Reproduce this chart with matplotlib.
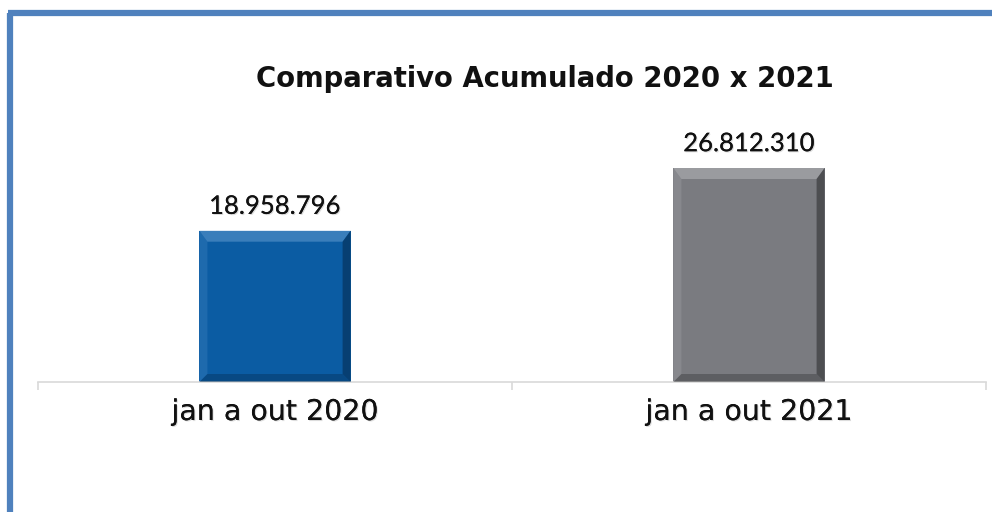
import matplotlib
matplotlib.use("Agg")
import matplotlib.pyplot as plt
import matplotlib.patheffects as pe
from matplotlib.patches import Polygon
import numpy as np

categories = ["jan a out 2020", "jan a out 2021"]
values = [18958796, 26812310]
value_labels = ["18.958.796", "26.812.310"]
title = "Comparativo Acumulado 2020 x 2021"

bar_colors = ["#0B5CA3", "#7A7B80"]
light_colors = ["#5A95CC", "#B0B1B5"]
dark_colors = ["#06345E", "#3A3B3E"]

plt.rcParams['font.family'] = ['Lato', 'DejaVu Sans']

fig = plt.figure(figsize=(9.92, 5.12), dpi=100)
W, H = 992, 512
ax = fig.add_axes([38 / W, 130 / H, (986 - 38) / W, (382 - 130) / H])
ax.set_xlim(-0.5, 1.5)
ax.set_ylim(0, values[1] * (382 - 130) / 214)

x = np.arange(len(categories))
bw = 0.319
bars = ax.bar(x, values, width=bw, color=bar_colors, zorder=2)

# bevel effect
to_disp = ax.transData
to_data = ax.transData.inverted()
for b, lc, dc in zip(bars, light_colors, dark_colors):
    x0, y0 = b.get_x(), b.get_y()
    x1, y1 = x0 + b.get_width(), y0 + b.get_height()
    (px0, py0) = to_disp.transform((x0, y0))
    (px1, py1) = to_disp.transform((x1, y1))
    st, ss = 11, 8
    outer = [(px0, py1), (px1, py1), (px1, py0), (px0, py0)]
    inner = [(px0 + ss, py1 - st), (px1 - ss, py1 - st), (px1 - ss, py0 + ss), (px0 + ss, py0 + ss)]

    def d(pts):
        return to_data.transform(pts)
    ax.add_patch(Polygon(d([outer[0], outer[1], inner[1], inner[0]]), closed=True,
                         facecolor=lc, edgecolor='none', alpha=0.6, zorder=3))
    ax.add_patch(Polygon(d([outer[0], inner[0], inner[3], outer[3]]), closed=True,
                         facecolor=lc, edgecolor='none', alpha=0.25, zorder=3))
    ax.add_patch(Polygon(d([outer[1], outer[2], inner[2], inner[1]]), closed=True,
                         facecolor=dc, edgecolor='none', alpha=0.7, zorder=3))
    ax.add_patch(Polygon(d([outer[3], inner[3], inner[2], outer[2]]), closed=True,
                         facecolor=dc, edgecolor='none', alpha=0.45, zorder=3))

shadow = [pe.withSimplePatchShadow(offset=(0.8, -0.8), shadow_rgbFace='#BBBBBB', alpha=0.5),
          pe.Normal()]
for b, lab in zip(bars, value_labels):
    ax.annotate(lab, (b.get_x() + b.get_width() / 2, b.get_height()),
                xytext=(0, 17.5), textcoords='offset points', ha='center', va='center',
                fontsize=18.5, color='#111111', path_effects=shadow)

for s in ['top', 'right', 'left']:
    ax.spines[s].set_visible(False)
ax.spines['bottom'].set_color('#D9D9D9')
ax.spines['bottom'].set_linewidth(1.2)
ax.set_yticks([])
ax.set_xticks([-0.5, 0.5, 1.5], minor=False)
ax.set_xticklabels([])
ax.tick_params(axis='x', length=6, color='#D9D9D9', width=1.2)
ax.set_xticks(x, minor=True)
ax.set_xticklabels(categories, minor=True, fontsize=20.5, color='#111111',
                   family=['DejaVu Sans'])
for t in ax.get_xticklabels(minor=True):
    t.set_path_effects(shadow)
ax.tick_params(axis='x', which='minor', length=0, pad=11.5)

fig.text(545 / W, 1 - 79 / H, title, ha='center', va='center', fontsize=19.8,
         fontweight='bold', color='#111111', family=['DejaVu Sans'])

# frame border
fig.add_artist(plt.Line2D([10 / W, 10 / W], [0, 1 - 12.5 / H], transform=fig.transFigure,
                          color='#4F81BD', linewidth=4.5, solid_capstyle='butt'))
fig.add_artist(plt.Line2D([7.5 / W, 1], [1 - 12.5 / H, 1 - 12.5 / H], transform=fig.transFigure,
                          color='#4F81BD', linewidth=4.5, solid_capstyle='butt'))

fig.savefig("out.png", dpi=100)
